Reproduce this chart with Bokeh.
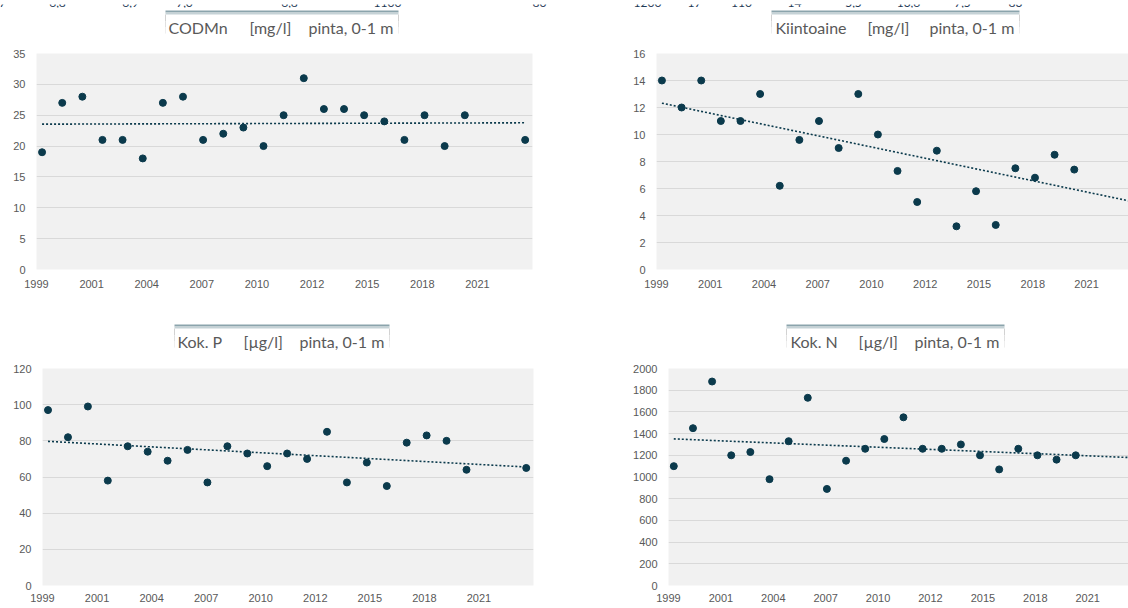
import datetime as dt
import numpy as np
from bokeh.plotting import figure
from bokeh.layouts import row, column
from bokeh.models import FixedTicker, Range1d
from bokeh.embed import file_html
from bokeh.resources import INLINE
from bokeh.core.properties import value

# ---------------- data ----------------
years = list(range(1999, 2021)) + [2023]
codmn = [19, 27, 28, 21, 21, 18, 27, 28, 21, 22, 23, 20, 25, 31, 26, 26, 25, 24, 21, 25, 20, 25, 21]
kiintoaine = [14, 12, 14, 11, 11, 13, 6.2, 9.6, 11, 9, 13, 10, 7.3, 5.0, 8.8, 3.2, 5.8, 3.3, 7.5, 6.8, 8.5, 7.4, 8.4]
kok_p = [97, 82, 99, 58, 77, 74, 69, 75, 57, 77, 73, 66, 73, 70, 85, 57, 68, 55, 79, 83, 80, 64, 65]
kok_n = [1100, 1450, 1880, 1200, 1230, 980, 1330, 1730, 890, 1150, 1260, 1350, 1550, 1260, 1260,
         1300, 1200, 1070, 1260, 1200, 1160, 1200, 1230]
tick_labels = ["1999", "2001", "2004", "2007", "2010", "2012", "2015", "2018", "2021"]
titles = ["CODMn", "Kiintoaine", "Kok. P", "Kok. N"]
units = ["[mg/l]", "[mg/l]", "[µg/l]", "[µg/l]"]
depth = "pinta, 0-1 m"
# partly visible row of a table above the charts
strip_texts = ["7", "6,8", "6,9", "7,0", "6,8", "1100", "80", "1200", "17", "110", "14", "5,5", "13,6", "7,5", "83"]

axis_start = dt.date(1999, 2, 20)
x_days = [(dt.date(y, 6, 1) - axis_start).days for y in years]
tick_days = [k * 1000 for k in range(len(tick_labels))]

# ---------------- style ----------------
PLOT_BG = "#f1f1f1"
GRID = "#d9d9d9"
DOT = "#0b3a4c"
TXT = "#595959"
TICK_FONT = "Liberation Sans Narrow, Liberation Sans, sans-serif"
TITLE_FONT = "Lato"
O = 0

charts = [
    dict(vals=codmn, ymax=35, ystep=5, fx=(O, 560), frx=(36, 532), fy=(47, 304), fry=(53, 269), xend=9000, xso=10),
    dict(vals=kiintoaine, ymax=16, ystep=2, fx=(560, 1128), frx=(656, 1128), fy=(47, 304), fry=(53, 269),
         xend=8781, xso=10),
    dict(vals=kok_p, ymax=120, ystep=20, fx=(O, 560), frx=(42, 533), fy=(362, 608), fry=(368, 585), xend=9000, xso=8),
    dict(vals=kok_n, ymax=2000, ystep=200, fx=(560, 1128), frx=(668, 1128), fy=(362, 608), fry=(368, 585),
         xend=8779, xso=8),
]
title_geo = [
    dict(tx=(168, 249, 308), box=(165, 398), top=10, base=27),
    dict(tx=(775, 867, 929), box=(771, 1019), top=10, base=27),
    dict(tx=(177, 243, 299), box=(174, 389), top=324, base=341),
    dict(tx=(790, 858, 914), box=(786, 1004), top=324, base=341),
]
strip_x = [2, 57, 130, 184, 289, 387, 539, 647, 694, 741, 794, 853, 908, 962, 1015]


def make_chart(c):
    (x0, x1), (fl, fr), (y0, y1), (ft, fb) = c["fx"], c["frx"], c["fy"], c["fry"]
    ymax = c["ymax"]
    p = figure(width=x1 - x0, height=y1 - y0, output_backend="svg", toolbar_location=None,
               x_range=Range1d(0, c["xend"]), y_range=Range1d(0, ymax),
               min_border_left=fl - x0, min_border_right=x1 - fr,
               min_border_top=ft - y0, min_border_bottom=y1 - fb)
    p.background_fill_color = PLOT_BG
    p.border_fill_color = "white"
    p.outline_line_color = None
    p.xgrid.visible = False
    yt = list(range(0, ymax + 1, c["ystep"]))
    p.yaxis.ticker = FixedTicker(ticks=yt)
    p.xaxis.ticker = FixedTicker(ticks=tick_days)
    p.xaxis.major_label_overrides = {d: lab for d, lab in zip(tick_days, tick_labels)}
    p.ygrid.grid_line_color = GRID
    for ax, so in ((p.xaxis, c["xso"]), (p.yaxis, 11)):
        ax.axis_line_color = None
        ax.major_tick_line_color = None
        ax.minor_tick_line_color = None
        ax.major_tick_out = 0
        ax.major_tick_in = 0
        ax.major_label_standoff = so
        ax.major_label_text_font = TICK_FONT
        ax.major_label_text_font_size = "11px"
        ax.major_label_text_color = TXT

    xs = np.array(x_days, dtype=float)
    ys = np.array(c["vals"], dtype=float)
    k, b = np.polyfit(xs, ys, 1)
    txs = np.array([xs.min(), xs.max()])
    p.line(txs, k * txs + b, line_color=DOT, line_width=1.6, line_dash="2 2")
    p.scatter(x_days, c["vals"], size=7, fill_color=DOT, line_color=DOT)
    return p


def blank_fig(x0, x1, y0, y1):
    t = figure(width=x1 - x0, height=y1 - y0, output_backend="svg", toolbar_location=None,
               x_range=Range1d(x0, x1), y_range=Range1d(y1, y0),
               min_border=0, min_border_left=0, min_border_right=0, min_border_top=0, min_border_bottom=0)
    t.axis.visible = False
    t.grid.visible = False
    t.outline_line_color = None
    t.background_fill_color = "white"
    t.border_fill_color = "white"
    return t


def make_title_fig(x0, x1, y0, y1, i):
    t = blank_fig(x0, x1, y0, y1)
    g = title_geo[i]
    bl, br = g["box"]
    top = g["top"]
    t.quad(left=[bl], right=[br], top=[top], bottom=[top + 2], fill_color="#8ba4ac", line_color=None)
    t.quad(left=[bl], right=[br], top=[top + 2], bottom=[top + 4], fill_color="#c5d2d6", line_color=None)
    for (a, bb2, col) in ((top + 4, top + 11, "#d2d2d2"), (top + 11, top + 17, "#e0e0e0"),
                          (top + 17, top + 23, "#eeeeee")):
        t.quad(left=[bl - 0.5, br - 0.5], right=[bl + 0.5, br + 0.5], top=[a, a], bottom=[bb2, bb2],
               fill_color=col, line_color=None)
    t.text(x=list(g["tx"]), y=[g["base"]] * 3, text=[titles[i], units[i], depth],
           text_font=value(TITLE_FONT), text_font_size="16px", text_color=TXT,
           text_align="left", text_baseline="alphabetic")
    return t


# strip with the cut-off table row
strip = blank_fig(0, 1128, 0, 8)
strip.text(x=strip_x, y=[-1.5] * len(strip_x), text=strip_texts, text_font=value("Lato"),
           text_font_size="12px", text_color="#1f3a56", text_align="center", text_baseline="alphabetic")
strip.quad(left=[5], right=[557], top=[4.5], bottom=[5.5], fill_color="#d6d6d6", line_color=None)
strip.quad(left=[560], right=[622], top=[4.5], bottom=[6], fill_color="#6f7f8c", fill_alpha=0.8, line_color=None)

figs = [make_chart(c) for c in charts]
t1 = make_title_fig(O, 560, 8, 47, 0)
t2 = make_title_fig(560, 1128, 8, 47, 1)
t3 = make_title_fig(O, 560, 304, 362, 2)
t4 = make_title_fig(560, 1128, 304, 362, 3)

layout = column(strip, row(t1, t2), row(figs[0], figs[1]), row(t3, t4), row(figs[2], figs[3]))

open("out.html", "w").write(file_html(layout, INLINE))
